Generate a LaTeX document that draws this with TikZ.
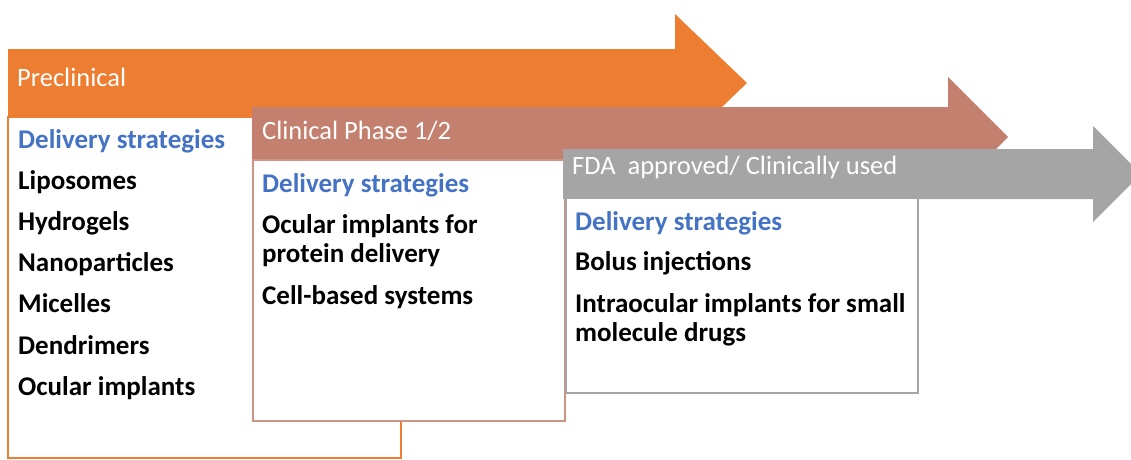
\documentclass[tikz,border=0pt]{standalone}
\usepackage{fontspec}
\setmainfont{Carlito}
\usetikzlibrary{positioning}
\definecolor{stageorange}{HTML}{ED7D31}
\definecolor{stagebrown}{HTML}{C4806E}
\definecolor{stagegrey}{HTML}{A5A5A5}
\definecolor{stageblue}{HTML}{4472C4}
\tikzset{
  hdr/.style={anchor=base west, inner sep=0pt, text=white, font=\fontsize{26.5}{30}\selectfont},
  card/.style={line width=1.5pt, fill=white},
  sub/.style={anchor=base west, inner sep=0pt, text=stageblue, font=\fontsize{27}{29}\selectfont\bfseries},
  item/.style={anchor=base west, inner sep=0pt, align=left, font=\fontsize{27}{29}\selectfont\bfseries},
}

\begin{document}
\begin{tikzpicture}[x=1pt, y=-1pt]
  \useasboundingbox (0,0) rectangle (1131,459);
  % preclinical stage
  \fill[stageorange] (8,49) -- (675,49) -- (675,14) -- (747,83) -- (675,152) -- (675,117) -- (8,117) -- cycle;
  \draw[card, draw=stageorange] (8,117) rectangle (401,458);
  \node[hdr] (pre) at (17,86) {Preclinical};
  \node[sub] (pre-sub) at (18,148) {Delivery strategies};
  \foreach \t [count=\i] in {Liposomes, Hydrogels, Nanoparticles, Micelles, Dendrimers, Ocular implants}
    \node[item] (pre-\i) at (18,{148+41.2*\i}) {\t};
  % clinical phase 1/2
  \fill[stagebrown] (252,107) -- (948,107) -- (948,77) -- (1008,137) -- (948,197) -- (948,167) -- (252,167) -- cycle;
  \draw[card, draw=stagebrown!85!white] (253,160) rectangle (565,421);
  \node[hdr] (clin) at (262,139) {Clinical Phase 1/2};
  \node[sub] (clin-sub) at (262,192) {Delivery strategies};
  % base of a two-line node sits on its last line
  \node[item] (clin-1) at (262,262) {Ocular implants for\\protein delivery};
  \node[item] (clin-2) at (262,304) {Cell-based systems};
  % approved / in use
  \fill[stagegrey] (563,149) -- (1093,149) -- (1093,126) -- (1141,174) -- (1093,222) -- (1093,199) -- (563,199) -- cycle;
  \draw[card, draw=stagegrey] (566,198) rectangle (918,393);
  \node[hdr] (fda) at (572,174) {FDA\ \ approved/ Clinically used};
  \node[sub] (fda-sub) at (575,230) {Delivery strategies};
  \node[item] (fda-1) at (575,270) {Bolus injections};
  \node[item] (fda-2) at (575,341) {Intraocular implants for small\\molecule drugs};
\end{tikzpicture}
\end{document}
